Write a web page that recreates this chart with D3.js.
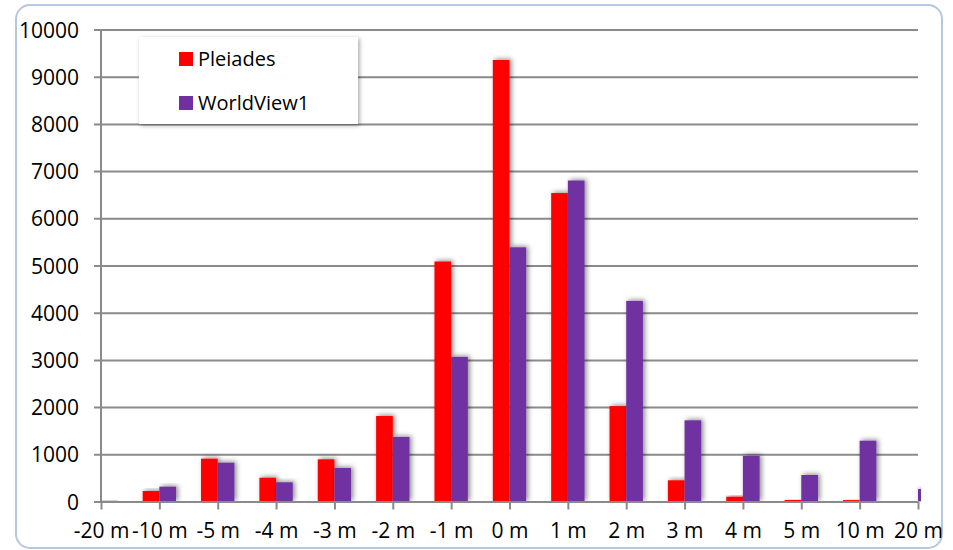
<!DOCTYPE html>
<html>
<head>
<meta charset="utf-8">
<script src="https://cdn.jsdelivr.net/npm/d3@7/dist/d3.min.js"></script>
<style>
  html, body { margin: 0; padding: 0; background: #ffffff; }
  svg { display: block; font-family: "Open Sans", sans-serif; }
</style>
</head>
<body>
<svg id="chart" width="953" height="550"></svg>
<script>
// Height difference classes
const categories = ["-20 m", "-10 m", "-5 m", "-4 m", "-3 m", "-2 m", "-1 m", "0 m", "1 m", "2 m", "3 m", "4 m", "5 m", "10 m", "20 m"];
const seriesNames = ["Pleiades", "WorldView1"];
const pleiades   = [0, 222, 907, 504, 894, 1811, 5085, 9354, 6535, 2021, 449, 102, 32, 30, 0];
const worldView1 = [15, 314, 822, 407, 710, 1366, 3063, 5385, 6800, 4250, 1720, 967, 561, 1288, 265];
const yTicks = [0, 1000, 2000, 3000, 4000, 5000, 6000, 7000, 8000, 9000, 10000];
const colors = ["#ff0000", "#7030a0"];

const svg = d3.select("#chart");
const plot = { left: 101, right: 918, top: 29.5, bottom: 501.5 };

const defs = svg.append("defs");
const shadow = defs.append("filter").attr("id", "barShadow")
  .attr("x", "-50%").attr("y", "-20%").attr("width", "200%").attr("height", "140%");
shadow.append("feDropShadow").attr("dx", 2).attr("dy", -1)
  .attr("stdDeviation", 2.5).attr("flood-color", "#000").attr("flood-opacity", 0.45);
const legShadow = defs.append("filter").attr("id", "legShadow")
  .attr("x", "-10%").attr("y", "-20%").attr("width", "120%").attr("height", "140%");
legShadow.append("feDropShadow").attr("dx", 1.5).attr("dy", 1.5)
  .attr("stdDeviation", 2).attr("flood-color", "#000").attr("flood-opacity", 0.35);
// bars are cut at the plot edges (slightly past the last gridline on the right)
defs.append("clipPath").attr("id", "plotClip")
  .append("rect")
  .attr("x", plot.left).attr("y", 0)
  .attr("width", plot.right + 3 - plot.left).attr("height", plot.bottom);

// Chart frame
svg.append("rect")
  .attr("x", 16).attr("y", 5).attr("width", 926).attr("height", 543)
  .attr("rx", 14).attr("ry", 14)
  .attr("fill", "#ffffff").attr("stroke", "#b7c7dd").attr("stroke-width", 2);

const x = d3.scalePoint().domain(categories).range([plot.left, plot.right]).padding(0);
const step = x.step();
const groupW = step / 1.75;   // 75% gap width
const barW = groupW / 2;

const y = d3.scaleLinear().domain([0, 10000]).range([plot.bottom, plot.top]);

// Horizontal gridlines + y tick labels
const yAxis = svg.append("g")
  .attr("transform", `translate(${plot.left},0)`)
  .call(d3.axisLeft(y).tickValues(yTicks).tickSize(-(plot.right - plot.left)).tickSizeOuter(0).tickPadding(22).tickFormat(d3.format("d")));
yAxis.select(".domain").remove();
yAxis.selectAll(".tick line")
  .attr("x1", -7).attr("stroke", "#8a8a8a").attr("stroke-width", 2);
yAxis.selectAll(".tick text")
  .attr("font-size", 21).attr("fill", "#000").attr("dy", "0.36em")
  .attr("font-family", "'Open Sans', sans-serif");

// Vertical axis line
svg.append("line")
  .attr("x1", plot.left).attr("x2", plot.left)
  .attr("y1", plot.top).attr("y2", plot.bottom)
  .attr("stroke", "#8a8a8a").attr("stroke-width", 2);

// Bars
const rows = categories.map((c, i) => ({ cat: c, values: [pleiades[i], worldView1[i]] }));
const barLayer = svg.append("g").attr("clip-path", "url(#plotClip)");
rows.forEach(r => {
  r.values.forEach((v, s) => {
    if (v <= 0) return;
    barLayer.append("rect")
      .attr("x", x(r.cat) - groupW / 2 + s * barW)
      .attr("y", y(v))
      .attr("width", barW)
      .attr("height", y(0) - y(v))
      .attr("fill", colors[s])
      .attr("filter", "url(#barShadow)");
  });
});

// Category axis
const xAxis = svg.append("g")
  .attr("transform", `translate(0,${plot.bottom})`)
  .call(d3.axisBottom(x).tickSize(8).tickSizeOuter(0).tickPadding(14));
xAxis.select(".domain")
  .attr("stroke", "#8a8a8a").attr("stroke-width", 2);
xAxis.selectAll(".tick line").attr("stroke", "#8a8a8a").attr("stroke-width", 2);
xAxis.selectAll(".tick text")
  .attr("font-size", 21).attr("fill", "#000")
  .attr("font-family", "'Open Sans', sans-serif");

// Legend
const legend = svg.append("g").attr("transform", "translate(139,37)");
legend.append("rect")
  .attr("width", 219).attr("height", 87)
  .attr("fill", "#ffffff").attr("filter", "url(#legShadow)");
seriesNames.forEach((name, i) => {
  const g = legend.append("g").attr("transform", `translate(40,${15 + i * 44})`);
  g.append("rect").attr("width", 14).attr("height", 14).attr("fill", colors[i]);
  g.append("text").attr("x", 19).attr("y", 7).attr("dy", "0.36em")
    .attr("font-size", 20).attr("fill", "#000").text(name);
});
</script>
</body>
</html>
